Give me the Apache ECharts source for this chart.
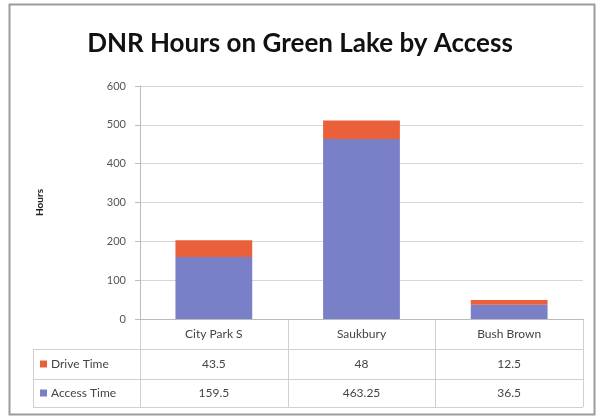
<!DOCTYPE html>
<html>
<head>
<meta charset="utf-8">
<script src="https://cdn.jsdelivr.net/npm/echarts@6/dist/echarts.min.js"></script>
<style>
  html, body { margin: 0; padding: 0; background: #fff; }
  #main { width: 600px; height: 420px; }
</style>
</head>
<body>
<div id="main"></div>
<script>
// chart data
const categories = ["City Park S", "Saukbury", "Bush Brown"];
const accessTime = [159.5, 463.25, 36.5];
const driveTime = [43.5, 48, 12.5];
const yTicks = [0, 100, 200, 300, 400, 500, 600];

const accessColor = "#7a80c8";
const driveColor = "#e9603a";
const font = "Lato";

const myChart = echarts.init(document.getElementById("main"));

const option = {
	animation: false,
	backgroundColor: "#fff",
	textStyle: { fontFamily: font },
	title: {
		text: "DNR Hours on Green Lake by Access",
		left: "center",
		top: 26,
		textStyle: { fontFamily: font, fontSize: 26, fontWeight: "bold", color: "#111" },
	},
	grid: { left: 140, right: 17, top: 86, bottom: 101 },
	xAxis: {
		type: "category",
		data: categories,
		axisTick: { show: false },
		axisLine: { lineStyle: { color: "#bbb" } },
		axisLabel: { show: false },
	},
	yAxis: {
		type: "value",
		min: yTicks[0],
		max: yTicks[yTicks.length - 1],
		interval: 100,
		name: "Hours",
		nameLocation: "middle",
		nameGap: 95,
		nameTextStyle: { fontSize: 10, fontWeight: "bold", color: "#222" },
		axisLine: { show: true, lineStyle: { color: "#bbb" } },
		axisTick: { show: true, length: 5, lineStyle: { color: "#bbb" } },
		axisLabel: { fontSize: 11, color: "#555", margin: 14 },
		splitLine: { lineStyle: { color: "#d6d6d6" } },
	},
	series: [
		{
			name: "Access Time",
			type: "bar",
			stack: "hours",
			barWidth: "52%",
			data: accessTime,
			itemStyle: { color: accessColor },
		},
		{
			name: "Drive Time",
			type: "bar",
			stack: "hours",
			data: driveTime,
			itemStyle: { color: driveColor },
		},
	],
};
myChart.setOption(option);

// data table under the plot, placed from the axis scale
const drawTable = () => {
	const x0 = myChart.convertToPixel({ xAxisIndex: 0 }, 0);
	const x1 = myChart.convertToPixel({ xAxisIndex: 0 }, 1);
	const step = x1 - x0;
	const left = x0 - step / 2;
	const right = left + step * categories.length;
	const top = myChart.convertToPixel({ yAxisIndex: 0 }, 0);
	const rowY = [top, 349, 379, 407];
	const tableLeft = 33;
	const lineStyle = { stroke: "#d0d0d0", lineWidth: 1 };
	const els = [];

	// frame around the whole chart
	els.push({
		type: "rect",
		shape: { x: 9.5, y: 4.5, width: 585, height: 410 },
		style: { fill: null, stroke: "#a09a98", lineWidth: 2 },
	});

	// horizontal rules
	for (let i = 1; i < rowY.length; i++) {
		els.push({
			type: "line",
			shape: { x1: tableLeft, y1: rowY[i] + 0.5, x2: right, y2: rowY[i] + 0.5 },
			style: lineStyle,
		});
	}
	// vertical rules
	els.push({
		type: "line",
		shape: { x1: tableLeft + 0.5, y1: rowY[1], x2: tableLeft + 0.5, y2: rowY[3] },
		style: lineStyle,
	});
	for (let c = 0; c <= categories.length; c++) {
		const x = Math.round(left + step * c) + 0.5;
		els.push({
			type: "line",
			shape: { x1: x, y1: rowY[0], x2: x, y2: rowY[3] },
			style: lineStyle,
		});
	}

	const rows = [
		{ name: null, values: categories },
		{ name: "Drive Time", color: driveColor, values: driveTime },
		{ name: "Access Time", color: accessColor, values: accessTime },
	];
	rows.forEach((row, r) => {
		const cy = (rowY[r] + rowY[r + 1]) / 2;
		row.values.forEach((v, c) => {
			els.push({
				type: "text",
				x: left + step * (c + 0.5),
				y: cy,
				style: {
					text: String(v),
					align: "center",
					verticalAlign: "middle",
					fontFamily: font,
					fontSize: 12,
					fill: "#444",
				},
			});
		});
		if (row.name) {
			els.push({
				type: "rect",
				shape: { x: 40, y: cy - 3.5, width: 7, height: 7 },
				style: { fill: row.color },
			});
			els.push({
				type: "text",
				x: 51,
				y: cy,
				style: {
					text: row.name,
					align: "left",
					verticalAlign: "middle",
					fontFamily: font,
					fontSize: 12,
					fill: "#444",
				},
			});
		}
	});

	myChart.setOption({ graphic: { elements: els } });
};
drawTable();
</script>
</body>
</html>
